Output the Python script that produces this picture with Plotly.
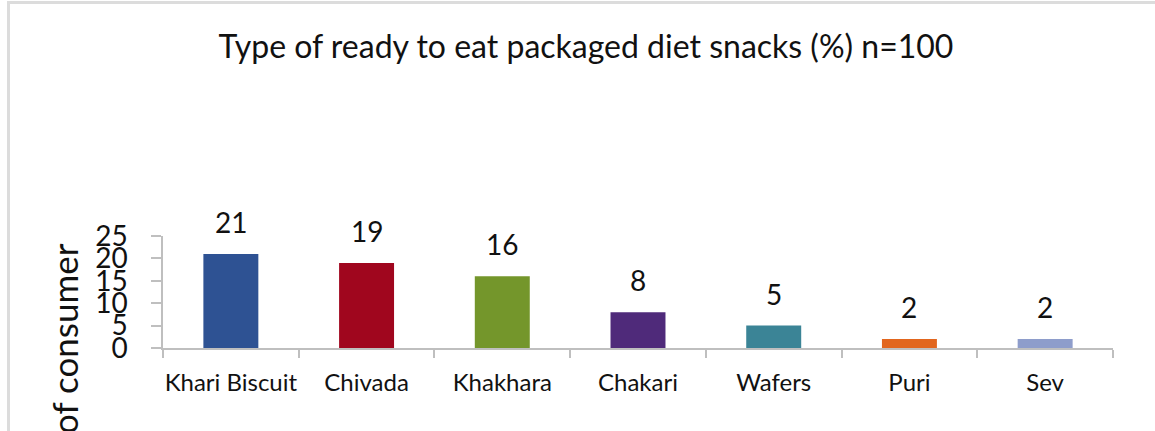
import plotly.graph_objects as go

# Survey data: share of consumers (%) buying each ready-to-eat diet snack
categories = ["Khari Biscuit", "Chivada", "Khakhara", "Chakari", "Wafers", "Puri", "Sev"]
percent = [21, 19, 16, 8, 5, 2, 2]
bar_colors = ["#2E5293", "#A0061E", "#74962B", "#4F2A7A", "#3B8496", "#E2661E", "#8E9DCB"]
y_ticks = [0, 5, 10, 15, 20, 25]

W, H = 1155, 431
M_L, M_R, M_T, M_B = 163, 42, 236, 83
PW, PH = W - M_L - M_R, H - M_T - M_B
FONT = "Lato, Calibri, sans-serif"


def px_x(px):
    return (px - M_L) / PW


def px_y(py):
    return (H - M_B - py) / PH


fig = go.Figure(
    go.Bar(
        x=categories,
        y=percent,
        marker=dict(color=bar_colors, line=dict(width=0)),
        width=0.405,
        showlegend=False,
        hoverinfo="x+y",
    )
)

# value labels above each bar
for cat, val in zip(categories, percent):
    fig.add_annotation(
        x=cat, y=val, text=str(val), showarrow=False,
        yanchor="bottom", yshift=13,
        font=dict(family=FONT, size=28, color="#111111"),
    )

# rotated y-axis title (runs off the lower edge of the frame)
fig.add_annotation(
    xref="paper", yref="paper",
    x=px_x(64), y=px_y(357),
    text="% of consumer", textangle=-90, showarrow=False,
    xanchor="center", yanchor="middle",
    font=dict(family=FONT, size=35, color="#111111"),
)

# light frame lines at the top and left edge
fig.add_shape(type="line", xref="paper", yref="paper",
              x0=px_x(7), x1=px_x(W + 5), y0=px_y(2.5), y1=px_y(2.5),
              line=dict(color="#DCDCDC", width=3))
fig.add_shape(type="line", xref="paper", yref="paper",
              x0=px_x(8.5), x1=px_x(8.5), y0=px_y(1), y1=px_y(H + 5),
              line=dict(color="#DCDCDC", width=3))

fig.update_layout(
    width=W, height=H,
    margin=dict(l=M_L, r=M_R, t=M_T, b=M_B, autoexpand=False),
    paper_bgcolor="white", plot_bgcolor="white",
    title=dict(
        text="Type of ready to eat packaged diet snacks (%) n=100",
        xref="container", yref="container",
        x=586 / W, y=1 - 47 / H, xanchor="center", yanchor="middle",
        font=dict(family=FONT, size=32, color="#111111"),
    ),
    xaxis=dict(
        type="category",
        automargin=False, tickangle=0,
        showline=True, linecolor="#BFBFBF", linewidth=1.5,
        ticks="outside", tickson="boundaries", ticklen=8, tickcolor="#BFBFBF", tickwidth=1.5,
        showgrid=False,
        tickfont=dict(family=FONT, size=24, color="#111111"),
        ticklabelstandoff=12,
    ),
    yaxis=dict(
        range=[0, 25],
        automargin=False,
        tickvals=y_ticks,
        showline=True, linecolor="#BFBFBF", linewidth=1.5,
        ticks="outside", ticklen=10, tickcolor="#BFBFBF", tickwidth=1.5,
        showgrid=False, zeroline=False,
        tickfont=dict(family=FONT, size=28, color="#111111"),
        ticklabelstandoff=18,
    ),
)

fig.write_html("out.html")
